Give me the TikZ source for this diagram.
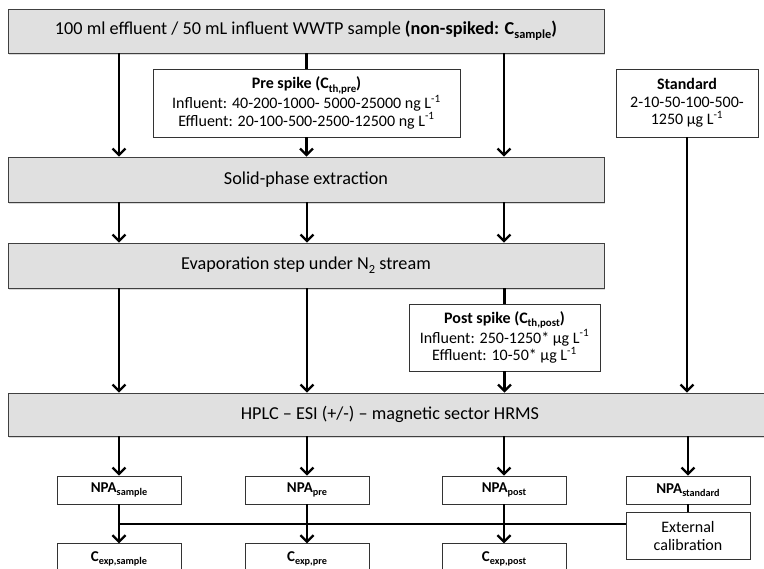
\documentclass[tikz,border=0pt]{standalone}
\usepackage{fontspec}
\setmainfont{Carlito}
\usetikzlibrary{positioning,calc,arrows.meta,shadows}

% lowered index text, as in C_sample
\newcommand{\subtxt}[1]{\raisebox{-0.45ex}{\scalebox{0.68}{#1}}}

\tikzset{
  stage/.style={draw=black!75, fill=black!12, line width=0.7pt, minimum width=596pt, minimum height=44pt,
    font=\fontsize{18.2}{21}\selectfont,
    drop shadow={shadow xshift=0.8pt, shadow yshift=-1.6pt, opacity=0.3}},
  spike/.style={draw=black!80, fill=white, line width=0.7pt, align=center, inner sep=2pt,
    font=\fontsize{16}{17.5}\selectfont},
  npa/.style={draw=black!80, fill=white, line width=0.7pt, minimum width=124pt, minimum height=28pt,
    inner sep=0pt, font=\bfseries\fontsize{15}{17}\selectfont},
  flow/.style={-{Straight Barb[length=6.5pt,width=13pt]}, line width=2.3pt},
  link/.style={line width=2.3pt},
}

\begin{document}
\begin{tikzpicture}[x=1pt, y=-1pt]
	\useasboundingbox (0,0) rectangle (764,569);

	% sample preparation
	\node[stage] (sample) at (306,31) {100 ml effluent / 50 mL influent WWTP sample \textbf{(non-spiked: C\subtxt{sample})}};
	\node[spike, minimum width=307pt, minimum height=68pt] (pre) at (306.5,103)
		{\textbf{Pre spike (C\subtxt{th,pre})}\\Influent: 40-200-1000- 5000-25000 ng L\textsuperscript{-1}\\Effluent: 20-100-500-2500-12500 ng L\textsuperscript{-1}};
	\node[spike, minimum width=142pt, minimum height=68pt] (std) at (687,103)
		{\textbf{Standard}\\2-10-50-100-500-\\1250 µg L\textsuperscript{-1}};
	\node[stage, minimum height=45pt] (spe) at (306,179.5) {Solid-phase extraction};
	\node[stage, minimum height=45pt] (evap) at (306,265.5) {Evaporation step under N\subtxt{2} stream};
	\node[spike, minimum width=191pt, minimum height=67pt] (post) at (504.5,337.5)
		{\textbf{Post spike (C\subtxt{th,post})}\\Influent: 250-1250* µg L\textsuperscript{-1}\\Effluent: 10-50* µg L\textsuperscript{-1}};
	\node[stage, minimum width=764pt, minimum height=43pt] (hplc) at (390,414.5) {HPLC – ESI (+/-) – magnetic sector HRMS};

	% peak areas and concentrations
	\node[npa] (npasample) at (119,490) {NPA\subtxt{sample}};
	\node[npa] (npapre) at (307,490) {NPA\subtxt{pre}};
	\node[npa] (npapost) at (504,490) {NPA\subtxt{post}};
	\node[npa] (npastd) at (688,490) {NPA\subtxt{standard}};
	\node[spike, minimum width=124pt, minimum height=47pt, below=8pt of npastd] (calib) {External\\calibration};
	\node[npa, minimum height=30pt, below=39pt of npasample] (cexpsample) {C\subtxt{exp,sample}};
	\node[npa, minimum height=30pt, below=39pt of npapre] (cexppre) {C\subtxt{exp,pre}};
	\node[npa, minimum height=30pt, below=39pt of npapost] (cexppost) {C\subtxt{exp,post}};

	\draw[flow] (sample.south -| npasample) -- (spe.north -| npasample);
	\draw[link] (sample.south -| pre) -- (pre.north);
	\draw[flow] (pre.south) -- (spe.north -| pre);
	\draw[flow] (sample.south -| npapost) -- (spe.north -| npapost);

	\draw[flow] (spe.south -| npasample) -- (evap.north -| npasample);
	\draw[flow] (spe.south -| npapre) -- (evap.north -| npapre);
	\draw[flow] (spe.south -| npapost) -- (evap.north -| npapost);

	\draw[flow] (evap.south -| npasample) -- (hplc.north -| npasample);
	\draw[flow] (evap.south -| npapre) -- (hplc.north -| npapre);
	\draw[link] (evap.south -| post) -- (post.north);
	\draw[flow] (post.south) -- (hplc.north -| post);
	\draw[flow] (std.south) -- (hplc.north -| std);

	\draw[flow] (hplc.south -| npasample) -- (npasample.north);
	\draw[flow] (hplc.south -| npapre) -- (npapre.north);
	\draw[flow] (hplc.south -| npapost) -- (npapost.north);
	\draw[flow] (hplc.south -| npastd) -- (npastd.north);

	% calibration line
	\draw[link] (npastd.south) -- (calib.north);
	\coordinate (cal) at ($(calib.north west)!0.25!(calib.south west)$);
	\draw[link] (cal) -- (cal -| npasample);

	\draw[flow] (npasample.south) -- (cexpsample.north);
	\draw[flow] (npapre.south) -- (cexppre.north);
	\draw[flow] (npapost.south) -- (cexppost.north);
\end{tikzpicture}
\end{document}
